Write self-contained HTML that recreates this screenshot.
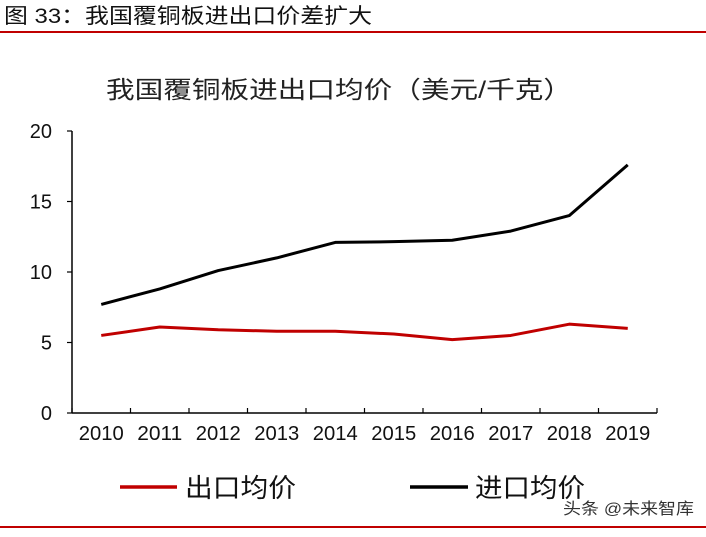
<!DOCTYPE html>
<html><head><meta charset="utf-8"><style>
body{margin:0;background:#fff;width:706px;height:532px;overflow:hidden;font-family:"Liberation Sans","Noto Sans CJK SC",sans-serif}
</style></head><body>
<svg width="706" height="532" xmlns="http://www.w3.org/2000/svg" font-family="Liberation Sans, Noto Sans CJK SC, sans-serif">
<text x="4" y="23" font-size="21" fill="#111" textLength="368" lengthAdjust="spacingAndGlyphs">图 33：我国覆铜板进出口价差扩大</text>
<rect x="0" y="31" width="706" height="2" fill="#c00000"/>
<text x="106" y="98" font-size="24" fill="#222" textLength="466" lengthAdjust="spacingAndGlyphs">我国覆铜板进出口均价（美元/千克）</text>
<g id="axes"></g>
<g id="lines"></g>
<g>
<line x1="120" y1="487" x2="177" y2="487" stroke="#c00000" stroke-width="3.5"/>
<text x="185" y="497" font-size="26" fill="#111" textLength="111" lengthAdjust="spacingAndGlyphs">出口均价</text>
<line x1="410" y1="487" x2="468" y2="487" stroke="#000" stroke-width="3.5"/>
<text x="475" y="497" font-size="26" fill="#111" textLength="110" lengthAdjust="spacingAndGlyphs">进口均价</text>
</g>
<text x="563" y="514" font-size="16" fill="#333" textLength="131" lengthAdjust="spacingAndGlyphs">头条 @未来智库</text>
<rect x="0" y="526" width="706" height="2" fill="#c00000"/>
</svg>
<script>
const categories=["2010","2011","2012","2013","2014","2015","2016","2017","2018","2019"];
const exportPrice=[5.5,6.1,5.9,5.8,5.8,5.6,5.2,5.5,6.3,6.0];
const importPrice=[7.7,8.8,10.1,11.0,12.1,12.15,12.25,12.9,14.0,17.6];
const yTicks=[0,5,10,15,20];
const NS="http://www.w3.org/2000/svg";
const x0=72,x1=657,y0=413,y1=131,yMax=20;
const band=(x1-x0)/categories.length;
const xs=i=>x0+band*(i+0.5);
const ys=v=>y0-(v/yMax)*(y0-y1);
function mk(t,a,p){const e=document.createElementNS(NS,t);for(const k in a)e.setAttribute(k,a[k]);p.appendChild(e);return e;}
const ax=document.getElementById('axes');
let e=mk('line',{x1:x0,y1:y0,x2:x0,y2:y1,stroke:'#000','stroke-width':1.5},ax);


e=mk('line',{x1:x0,y1:y0,x2:x1,y2:y0,stroke:'#000','stroke-width':1.5},ax);


yTicks.forEach(v=>{
  const t=mk('line',{x1:x0-5,y1:ys(v),x2:x0,y2:ys(v),stroke:'#000','stroke-width':1.2},ax);
  
  
  const l=mk('text',{x:x0-20,y:ys(v)+7,'font-size':20,'text-anchor':'end',fill:'#111'},ax);
  l.textContent=v;
  
  
});
for(let i=0;i<=categories.length;i++){
  const t=mk('line',{x1:x0+band*i,y1:y0,x2:x0+band*i,y2:y0-5,stroke:'#000','stroke-width':1.2},ax);
  
  
}
categories.forEach((c,i)=>{
  const l=mk('text',{x:xs(i),y:y0+27,'font-size':20,'text-anchor':'middle',fill:'#111',textLength:45,lengthAdjust:'spacingAndGlyphs'},ax);
  l.textContent=c;
  
  
});
const lg=document.getElementById('lines');
function line(vals,col,name){
  const p=mk('polyline',{points:vals.map((v,i)=>xs(i)+','+ys(v)).join(' '),fill:'none',stroke:col,'stroke-width':3,'stroke-linejoin':'round'},lg);
  
  
}
line(exportPrice,'#c00000','export-price-line');
line(importPrice,'#000','import-price-line');
</script>
</body></html>
